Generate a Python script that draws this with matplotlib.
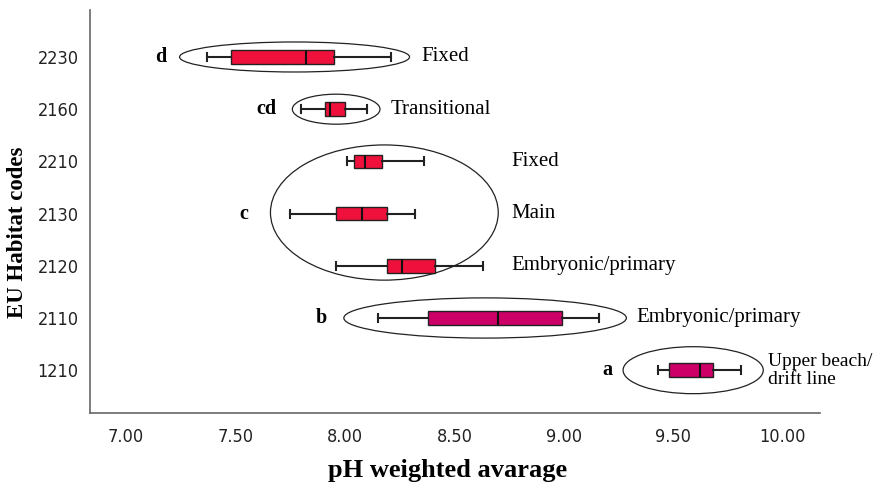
import matplotlib
matplotlib.use('Agg')
import matplotlib.pyplot as plt
from matplotlib.patches import Ellipse

# habitat codes, bottom to top
codes = ['1210', '2110', '2120', '2130', '2210', '2160', '2230']
whislo = [9.43, 8.15, 7.96, 7.75, 8.01, 7.80, 7.37]
q1 = [9.48, 8.38, 8.19, 7.96, 8.04, 7.91, 7.48]
med = [9.62, 8.70, 8.26, 8.08, 8.09, 7.93, 7.82]
q3 = [9.68, 8.99, 8.41, 8.19, 8.17, 8.00, 7.95]
whishi = [9.81, 9.16, 8.63, 8.32, 8.36, 8.10, 8.21]
box_colors = ['#CC0066', '#CC0066', '#F0103C', '#F0103C', '#F0103C', '#F0103C', '#F0103C']
dune_types = ['Upper beach/\ndrift line', 'Embryonic/primary', 'Embryonic/primary',
              'Main', 'Fixed', 'Transitional', 'Fixed']

# groups: letter, ellipse (x centre, y centre, width, height)
group_letters = ['a', 'b', 'c', 'cd', 'd']
group_letter_x = [9.20, 7.89, 7.54, 7.64, 7.16]
group_letter_y = [0, 1, 3, 5, 6]
ell_x = [9.59, 8.64, 8.18, 7.96, 7.77]
ell_y = [0, 1, 3.02, 5, 6]
ell_w = [0.64, 1.29, 1.04, 0.40, 1.05]
ell_h = [0.90, 0.77, 2.59, 0.575, 0.575]
label_x = [9.93, 9.33, 8.76, 8.76, 8.76, 8.21, 8.35]

serif = ['Liberation Serif', 'DejaVu Serif']

fig = plt.figure(figsize=(8.77, 4.88), dpi=100)
ax = fig.add_axes([0.1026, 0.1537, 0.8324, 0.8258])

stats = []
for i in range(len(codes)):
    stats.append({'whislo': whislo[i], 'q1': q1[i], 'med': med[i],
                  'q3': q3[i], 'whishi': whishi[i], 'fliers': []})

pos = list(range(len(codes)))
bp = ax.bxp(stats, positions=pos, vert=False, widths=0.26, patch_artist=True,
            showfliers=False, capwidths=0.15,
            boxprops=dict(edgecolor='#222222', linewidth=1.0),
            medianprops=dict(color='#111111', linewidth=1.5),
            whiskerprops=dict(color='#222222', linewidth=1.5),
            capprops=dict(color='#222222', linewidth=1.5))
for patch, c in zip(bp['boxes'], box_colors):
    patch.set_facecolor(c)

for i in range(len(group_letters)):
    ax.add_patch(Ellipse((ell_x[i], ell_y[i]), ell_w[i], ell_h[i],
                         fill=False, edgecolor='#222222', linewidth=0.9))
    ax.text(group_letter_x[i], group_letter_y[i], group_letters[i],
            family=serif, fontweight='bold', fontsize=14.5,
            ha='center', va='center')

for i in range(len(codes)):
    # the two-line label sits at the right edge, keep it a bit smaller
    fs = 14 if '\n' in dune_types[i] else 15
    ax.text(label_x[i], pos[i], dune_types[i], family=serif, fontsize=fs,
            ha='left', va='center', linespacing=1.05)

ax.set_xlim(6.836, 10.169)
ax.set_ylim(-0.82, 6.9)
ax.set_yticks(pos)
ax.set_yticklabels(codes)
ax.set_xticks([7.0, 7.5, 8.0, 8.5, 9.0, 9.5, 10.0])
ax.set_xticklabels(['7.00', '7.50', '8.00', '8.50', '9.00', '9.50', '10.00'])
ax.tick_params(axis='x', length=0, pad=11, labelsize=13)
ax.tick_params(axis='y', length=0, pad=8, labelsize=13)
for lab in ax.get_xticklabels() + ax.get_yticklabels():
    lab.set_family('DejaVu Sans')
    lab.set_stretch('condensed')
    lab.set_color('#222222')

for s in ['top', 'right']:
    ax.spines[s].set_visible(False)
for s in ['left', 'bottom']:
    ax.spines[s].set_color('#666666')
    ax.spines[s].set_linewidth(1.2)

ax.set_xlabel('pH weighted avarage', family=serif, fontweight='bold', fontsize=19)
ax.set_ylabel('EU Habitat codes', family=serif, fontweight='bold', fontsize=16.5)
ax.xaxis.set_label_coords(0.49, -0.113)
ax.yaxis.set_label_coords(-0.085, 0.449)

fig.savefig('out.png', dpi=100)
